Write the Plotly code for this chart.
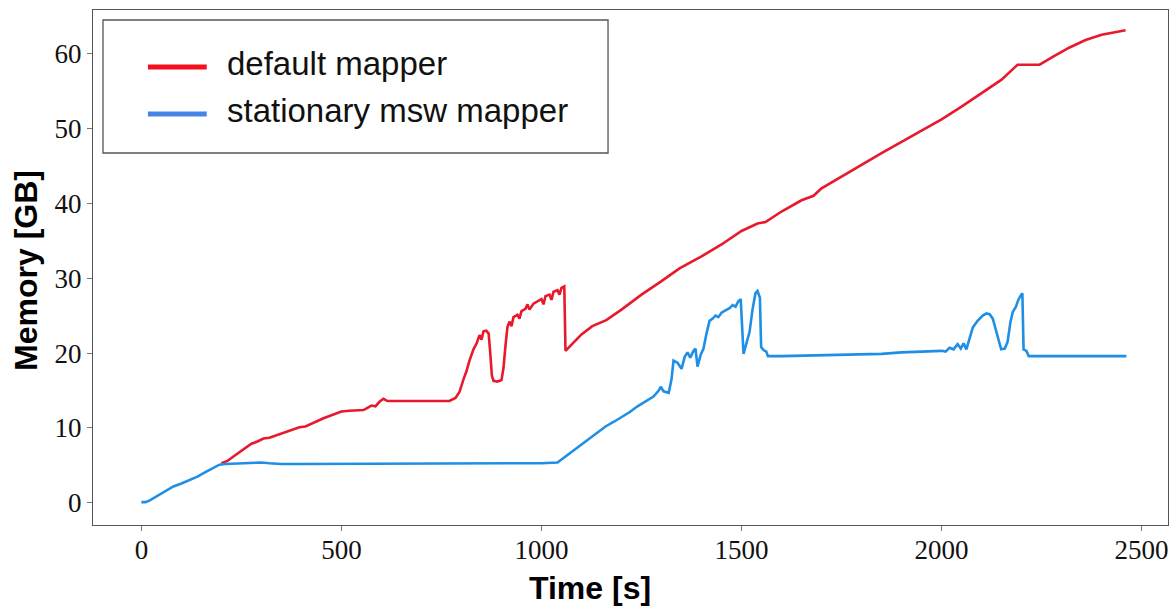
import plotly.graph_objects as go

# ---- data ----
default_t = [200, 215, 230, 245, 260, 275, 290, 305, 320, 335, 350, 365, 380, 395, 410, 425,
             440, 455, 470, 485, 500, 520, 540, 555, 565, 575, 585, 595, 605, 615, 630, 700,
             770, 785, 795, 805, 812, 820, 830, 838, 845, 850, 855, 862, 868, 872, 876, 880,
             890, 900, 905, 910, 915, 920, 925, 930, 940, 945, 950, 960, 965, 970, 980, 990,
             1000, 1005, 1010, 1020, 1025, 1030, 1040, 1045, 1050, 1057, 1060, 1080, 1100,
             1127, 1162, 1200, 1250, 1300, 1345, 1400, 1450, 1500, 1540, 1560, 1600, 1650,
             1680, 1700, 1750, 1800, 1850, 1900, 1950, 2000, 2050, 2100, 2150, 2190, 2245,
             2280, 2320, 2360, 2400, 2430, 2460]
default_mem = [5.3, 5.6, 6.2, 6.8, 7.3, 7.9, 8.2, 8.6, 8.7, 9.0, 9.3, 9.5, 9.9, 10.1, 10.2, 10.6,
               10.9, 11.3, 11.6, 11.9, 12.2, 12.3, 12.4, 12.4, 12.7, 13.0, 12.9, 13.5, 13.9, 13.6, 13.6, 13.6,
               13.6, 14.0, 14.8, 16.5, 17.5, 19.0, 20.5, 21.3, 22.4, 21.8, 22.9, 23.0, 22.6, 20.0, 17.0, 16.3,
               16.2, 16.4, 18.0, 21.0, 23.5, 24.2, 23.6, 24.8, 25.1, 24.6, 25.6, 25.9, 26.5, 25.8, 26.6, 26.9,
               27.2, 26.5, 27.6, 27.8, 27.1, 28.2, 28.4, 27.8, 28.7, 28.9, 20.3, 21.4, 22.5,
               23.6, 24.4, 25.8, 27.8, 29.6, 31.3, 32.9, 34.5, 36.3, 37.3, 37.5, 38.9, 40.4,
               41.0, 42.0, 43.6, 45.2, 46.7, 48.2, 49.7, 51.2, 52.9, 54.7, 56.5, 58.5, 58.5,
               59.6, 60.8, 61.8, 62.5, 62.8, 63.1]

msw_t = [0, 10, 20, 35, 50, 65, 80, 100, 120, 140, 160, 180, 195, 210, 250, 300, 320, 350, 400,
         450, 500, 550, 600, 650, 700, 750, 800, 850, 870, 900, 950, 1000, 1040, 1060, 1080, 1100,
         1120, 1140, 1160, 1180, 1200, 1220, 1240, 1260, 1280, 1293, 1298, 1305, 1318, 1325, 1330,
         1340, 1350, 1358, 1365, 1372, 1380, 1385, 1390, 1398, 1405, 1412, 1420, 1428, 1435, 1442,
         1450, 1460, 1470, 1478, 1485, 1492, 1498, 1505, 1512, 1520, 1528, 1535, 1540, 1546, 1549,
         1555, 1562, 1566, 1600, 1700, 1800, 1850, 1900, 1950, 2000, 2010, 2020, 2030, 2040, 2048,
         2055, 2062, 2070, 2078, 2090, 2103, 2112, 2120, 2128, 2135, 2141, 2149, 2158, 2165, 2172,
         2178, 2186, 2191, 2197, 2202, 2205, 2212, 2218, 2300, 2400, 2462]
msw_mem = [0.1, 0.1, 0.3, 0.8, 1.3, 1.8, 2.2, 2.6, 3.0, 3.5, 4.1, 4.7, 5.1, 5.2, 5.3, 5.4, 5.3, 5.2, 5.2,
           5.2, 5.3, 5.2, 5.2, 5.2, 5.2, 5.2, 5.3, 5.3, 5.2, 5.2, 5.2, 5.3, 5.4, 6.2, 7.0, 7.9,
           8.7, 9.4, 10.2, 10.8, 11.4, 12.1, 12.9, 13.6, 14.2, 15.0, 15.5, 14.9, 14.7, 16.5, 19.0,
           18.7, 17.9, 19.5, 20.1, 19.4, 20.3, 20.6, 18.2, 19.8, 20.6, 22.5, 24.3, 24.6, 25.0, 24.8,
           25.4, 25.7, 26.0, 26.4, 26.2, 26.9, 27.2, 19.9, 21.2, 22.8, 26.0, 28.0, 28.3, 27.4, 20.8,
           20.4, 20.2, 19.6, 19.6, 19.7, 19.8, 19.9, 20.1, 20.2, 20.3, 20.2, 20.7, 20.5, 21.2, 20.6,
           21.3, 20.5, 21.8, 23.4, 24.3, 25.0, 25.3, 25.2, 24.6, 23.2, 22.3, 20.5, 20.6, 21.5, 24.1,
           25.5, 26.2, 27.0, 27.6, 28.0, 20.5, 20.3, 19.6, 19.6, 19.6, 19.6]

series_names = ["default mapper", "stationary msw mapper"]
series_colors = ["#e8192c", "#1f8fe6"]
legend_colors = ["#f5101f", "#4585e6"]
x_ticks = [0, 500, 1000, 1500, 2000, 2500]
y_ticks = [0, 10, 20, 30, 40, 50, 60]

fig = go.Figure()
fig.add_trace(go.Scatter(x=default_t, y=default_mem, mode="lines", name=series_names[0],
                         line=dict(color=series_colors[0], width=2.6), showlegend=False))
fig.add_trace(go.Scatter(x=msw_t, y=msw_mem, mode="lines", name=series_names[1],
                         line=dict(color=series_colors[1], width=2.6), showlegend=False))

# manual legend (box, lines, labels) in paper coordinates
fig.add_shape(type="rect", xref="paper", yref="paper", x0=0.0093, x1=0.4791, y0=0.7223, y1=0.9806,
              line=dict(color="#555555", width=1.3), fillcolor="white", layer="above")
for i, ypos in enumerate([0.8893, 0.7981]):
    fig.add_shape(type="line", xref="paper", yref="paper", x0=0.0511, x1=0.1058, y0=ypos, y1=ypos,
                  line=dict(color=legend_colors[i], width=5), layer="above")
    fig.add_annotation(xref="paper", yref="paper", x=0.1226, y=ypos + 0.006, text=series_names[i],
                       showarrow=False, xanchor="left", yanchor="middle",
                       font=dict(family="Liberation Sans, Arial, sans-serif", size=33, color="#111111"))

# axis titles
fig.add_annotation(xref="paper", yref="paper", x=0.4624, y=-0.122, text="<b>Time [s]</b>",
                   showarrow=False, xanchor="center", yanchor="middle",
                   font=dict(family="Liberation Sans, Arial, sans-serif", size=32, color="#000000"))
fig.add_annotation(xref="paper", yref="paper", x=-0.0625, y=0.495, text="<b>Memory [GB]</b>",
                   showarrow=False, xanchor="center", yanchor="middle", textangle=-90,
                   font=dict(family="Liberation Sans, Arial, sans-serif", size=32, color="#000000"))

axis_common = dict(showgrid=False, zeroline=False, showline=True, linecolor="#555555", linewidth=1.3,
                   mirror=True, ticks="outside", ticklen=5, tickcolor="#777777", tickwidth=1,
                   tickfont=dict(family="Liberation Serif, Times New Roman, serif", size=27, color="#111111"))
fig.update_xaxes(range=[-121, 2566], tickvals=x_ticks, ticktext=[str(v) for v in x_ticks],
                 ticklabelstandoff=-5, **axis_common)
fig.update_yaxes(range=[-2.95, 65.8], tickvals=y_ticks, ticktext=[str(v) for v in y_ticks], **axis_common)

fig.update_layout(width=1174, height=607, margin=dict(l=93, r=6, t=10, b=82, autoexpand=False),
                  paper_bgcolor="white", plot_bgcolor="white", showlegend=False)

fig.write_html("out.html")
